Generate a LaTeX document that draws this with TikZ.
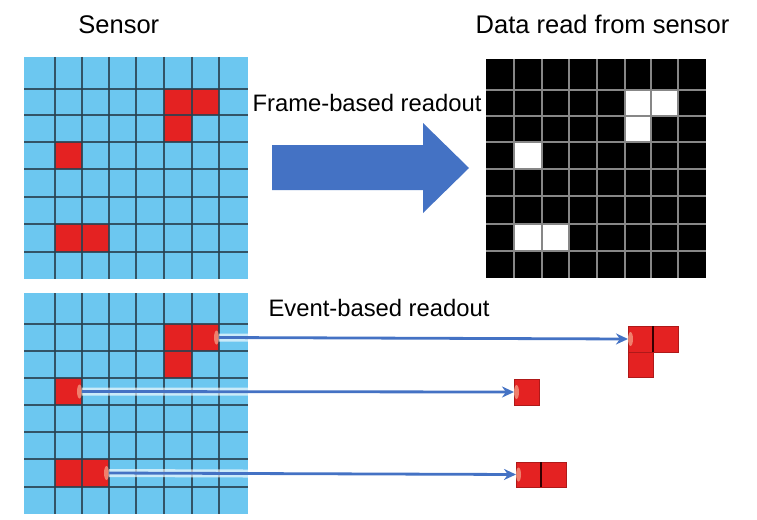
\documentclass[tikz,border=0pt]{standalone}
\usepackage{fontspec}
\setmainfont{Liberation Sans}
\usetikzlibrary{arrows.meta}
\definecolor{sensorblue}{RGB}{108,199,240}
\definecolor{cellred}{RGB}{228,34,34}
\definecolor{celledge}{RGB}{175,25,25}
\definecolor{gridline}{RGB}{40,65,80}
\definecolor{arrowblue}{RGB}{68,114,196}
\definecolor{datagray}{RGB}{135,135,135}
\definecolor{glowcol}{RGB}{248,190,160}
\begin{document}
\begin{tikzpicture}[x=1pt,y=-1pt,
  hdr/.style={font=\fontsize{25.5}{30}\selectfont, anchor=base, inner sep=0},
  lbl/.style={font=\fontsize{23.8}{28}\selectfont, anchor=base, inner sep=0},
  cellbox/.style={fill=cellred, draw=none, inner sep=0, outer sep=0, minimum width=#1},
  tcell/.style={fill=cellred, draw=celledge, line width=0.6pt, inner sep=0, outer sep=0, minimum width=25pt, minimum height=#1},
  sgrid/.style={draw=gridline, line width=1.4pt, opacity=0.85},
  dgrid/.style={draw=datagray, line width=2.4pt},
  evarrow/.style={draw=arrowblue, line width=2.8pt, -{Stealth[length=12pt,width=11pt]}},
  halo/.style={draw=white, line width=8pt, opacity=0.65},
  glow/.style={fill=glowcol, opacity=0.6}]
\useasboundingbox (0,0) rectangle (757,519);
\fill[white] (0,0) rectangle (757,519);

% ---------- titles ----------
\node[hdr] (tsensor) at (118.8,33.3) {Sensor};
\node[hdr] (tdata) at (602.5,33.3) {Data read from sensor};
\node[lbl] (tframe) at (367,111.7) {Frame-based readout};
\node[lbl] (tevent) at (379,316.7) {Event-based readout};

% ---------- top sensor ----------
\fill[sensorblue] (24,57) rectangle (248,279);
\fill[cellred] (164,89) rectangle (219,115);
\fill[cellred] (164,115) rectangle (192,142);
\fill[cellred] (55,142) rectangle (82,169);
\fill[cellred] (55,224) rectangle (109,252);
\foreach \x in {55,82,109,136,164,192,219} \draw[sgrid] (\x,57) -- (\x,279);
\foreach \y in {89,115,142,169,197,224,252} \draw[sgrid] (24,\y) -- (248,\y);

% ---------- big arrow ----------
\fill[arrowblue] (272,145) -- (423,145) -- (423,123) -- (469,168) -- (423,213) -- (423,190) -- (272,190) -- cycle;

% ---------- data read from sensor ----------
\fill[black] (486,59) rectangle (706,278);
\fill[white] (625,90) rectangle (678,116);
\fill[white] (625,116) rectangle (651,142);
\fill[white] (514,142) rectangle (542,169);
\fill[white] (514,224) rectangle (569,251);
\foreach \x in {514,542,569,597,625,651,678} \draw[dgrid] (\x,59) -- (\x,278);
\foreach \y in {90,116,142,169,196,224,251} \draw[dgrid] (486,\y) -- (706,\y);

% ---------- bottom sensor ----------
\fill[sensorblue] (24,293) rectangle (248,514);
\node[cellbox=28pt, minimum height=27pt] (s1a) at (178,337.5) {};
\node[cellbox=27pt, minimum height=27pt] (s1) at (205.5,337.5) {};
\node[cellbox=28pt, minimum height=27pt] (s1c) at (178,364.5) {};
\node[cellbox=27pt, minimum height=27pt] (s2) at (68.5,391.5) {};
\node[cellbox=27pt, minimum height=28pt] (s3a) at (68.5,473) {};
\node[cellbox=27pt, minimum height=28pt] (s3) at (95.5,473) {};
\foreach \x in {55,82,109,136,164,192,219} \draw[sgrid] (\x,293) -- (\x,514);
\foreach \y in {324,351,378,405,432,459,487} \draw[sgrid] (24,\y) -- (248,\y);

% ---------- event targets ----------
\node[tcell=26pt] (t1) at (640.5,339) {};
\node[tcell=26pt] (t1b) at (665.5,339) {};
\node[tcell=25pt] (t1c) at (640.5,364.5) {};
\node[tcell=26pt] (t2) at (526.5,392) {};
\node[tcell=25pt] (t3) at (528.5,474.5) {};
\node[tcell=25pt] (t3b) at (553.5,474.5) {};
\draw[draw=black!80!red, line width=1.6pt] (t1.north east) -- (t1.south east);
\draw[draw=black!80!red, line width=1.6pt] (t3.north east) -- (t3.south east);

% glows
\foreach \n in {s1,s2,s3} \fill[glow] (\n.east) ++(-2.5,0) ellipse [x radius=2.5, y radius=7];
\foreach \n in {t1,t2,t3} \fill[glow] (\n.west) ++(2.5,0) ellipse [x radius=2.5, y radius=7];

% halos inside the sensor
\begin{scope}
\clip (24,293) rectangle (248,514);
\draw[halo] (s1.east) -- (t1.west);
\draw[halo] (s2.east) -- (t2.west);
\draw[halo] (s3.east) -- (t3.west);
\end{scope}

% event connectors
\draw[evarrow] (s1.east) -- (t1.west);
\draw[evarrow] (s2.east) -- (t2.west);
\draw[evarrow] (s3.east) -- (t3.west);
\end{tikzpicture}
\end{document}
